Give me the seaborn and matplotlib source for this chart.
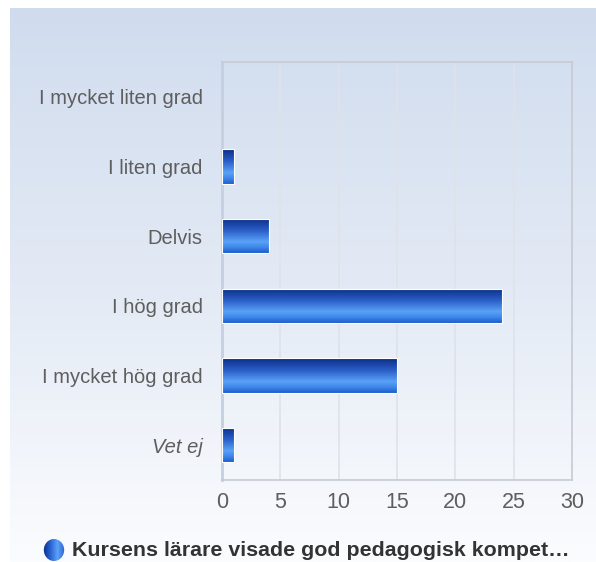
import numpy as np
import pandas as pd
import matplotlib
matplotlib.use("Agg")
import matplotlib.pyplot as plt
import seaborn as sns
from matplotlib.colors import LinearSegmentedColormap
from matplotlib.patches import Ellipse

categories = ["I mycket liten grad", "I liten grad", "Delvis", "I hög grad", "I mycket hög grad", "Vet ej"]
values = [0, 1, 4, 24, 15, 1]
xticks = [0, 5, 10, 15, 20, 25, 30]
legend_label = "Kursens lärare visade god pedagogisk kompet…"

sns.set_theme(style="white")
plt.rcParams['font.family'] = ['Liberation Sans', 'DejaVu Sans']

W, H = 596, 562
fig = plt.figure(figsize=(W / 100, H / 100), dpi=100)
fig.patch.set_facecolor("white")

# background gradient panel
bg = fig.add_axes([10 / W, 0, 1 - 10 / W, 1 - 8 / H])
bg.set_axis_off()
grad = np.linspace(0, 1, 256).reshape(-1, 1)
bgcmap = LinearSegmentedColormap.from_list("bg", ["#d0dcee", "#e3eaf5", "#fbfcfe"])
bg.imshow(grad, aspect="auto", cmap=bgcmap, extent=[0, 1, 0, 1], origin="upper")

left, right, top, bottom = 222, 572, 62, 480
ax = fig.add_axes([left / W, 1 - bottom / H, (right - left) / W, (bottom - top) / H])
ax.patch.set_alpha(0)

df = pd.DataFrame({"cat": categories, "val": values})
sns.barplot(data=df, y="cat", x="val", orient="h", ax=ax, color="#2a62d0",
            width=0.49, edgecolor="white", linewidth=0.8, zorder=3)
ax.set_xlim(0, 30)
ax.set_xticks(xticks)
ax.set_xlabel("")
ax.set_ylabel("")

barcmap = LinearSegmentedColormap.from_list(
    "bar", [(0, "#0b2c86"), (0.35, "#2a5fc8"), (0.68, "#5aa2f7"), (0.85, "#3c84e8"), (1, "#1c5ccc")])
bgrad = np.linspace(0, 1, 128).reshape(-1, 1)
for p in list(ax.patches):
    x0, y0 = p.get_x(), p.get_y()
    w, h = p.get_width(), p.get_height()
    if w <= 0:
        p.set_visible(False)
        continue
    im = ax.imshow(bgrad, aspect="auto", cmap=barcmap,
                   extent=[x0, x0 + w, y0 + h, y0], origin="upper", zorder=3.5)
    im.set_clip_path(p)
    p.set_facecolor("none")
    p.set_zorder(4)
ax.set_ylim(5.5, -0.5)
ax.set_xlim(0, 30)

for xv in xticks[1:-1]:
    ax.axvline(xv, color="#dfe2e8", lw=1.2, zorder=1)
for s in ["top", "right", "bottom"]:
    ax.spines[s].set_visible(True)
    ax.spines[s].set_color("#c6cad2")
    ax.spines[s].set_linewidth(1.2)
ax.spines["left"].set_color("#c4cfe2")
ax.spines["left"].set_linewidth(2)

ax.tick_params(axis="both", length=0, labelcolor="#5e5e5e")
ax.tick_params(axis="y", labelsize=14.5, pad=14)
ax.tick_params(axis="x", labelsize=15.5, pad=9)
for lbl in ax.get_yticklabels():
    if lbl.get_text() == "Vet ej":
        lbl.set_fontstyle("italic")

# legend
fig.text(72 / W, 1 - 551 / H, legend_label, fontsize=15.4, fontweight="bold",
         color="#333333", va="center", ha="left")
cx, cy = 54, 550
circ_ax = fig.add_axes([(cx - 11) / W, 1 - (cy + 11) / H, 22 / W, 22 / H])
circ_ax.set_axis_off()
circ_ax.set_xlim(-1, 1); circ_ax.set_ylim(-1, 1)
xx, yy = np.meshgrid(np.linspace(-1, 1, 64), np.linspace(-1, 1, 64))
circcmap = LinearSegmentedColormap.from_list("c", ["#0b2c86", "#2a62d0", "#5aa2f7", "#2a62d0"])
ci = circ_ax.imshow(xx, cmap=circcmap, extent=[-1, 1, -1, 1], aspect="auto")
e = Ellipse((0, 0), 1.85, 2.0, transform=circ_ax.transData, facecolor="none", edgecolor="none")
circ_ax.add_patch(e)
ci.set_clip_path(e)

fig.savefig("out.png", dpi=100)
